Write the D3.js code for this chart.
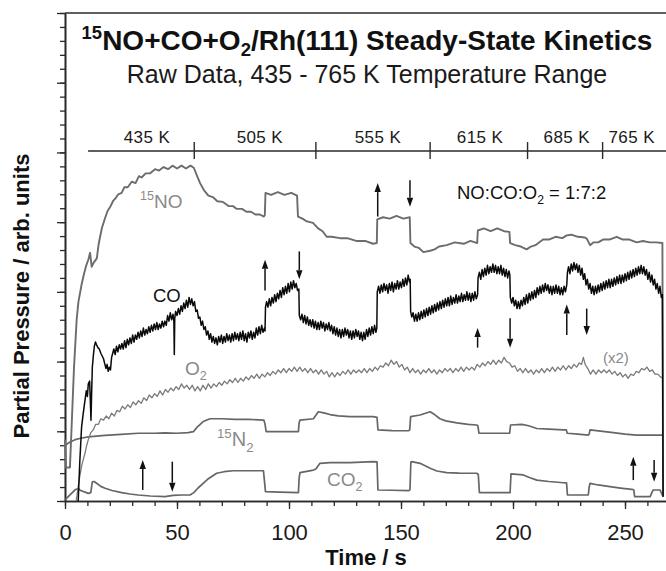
<!DOCTYPE html>
<html>
<head>
<meta charset="utf-8">
<script src="https://d3js.org/d3.v7.min.js"></script>
<style>
body { margin: 0; background: #fff; }
svg { display: block; font-family: "Liberation Sans", Arial, Helvetica, sans-serif; }
</style>
</head>
<body>
<script>
// ---- data: [time (s), partial pressure (arb.)] ----
var noData = [[0,4.4],[0.4,2.4],[2.2,2.4],[3.0,5.5],[4.0,9.5],[5.2,13.0],[6.0,14.3],[7.5,15.6],[8.5,16.3],[9.5,16.9],[10.4,17.3],[11.2,17.8],[11.9,16.8],[12.8,17.1],[14.2,17.4],[15.0,18.4],[15.6,18.9],[16.5,19.6],[17.9,20.3],[19.0,20.8],[20.2,21.1],[21.4,21.5],[22.5,21.7],[23.8,22.0],[25.3,22.1],[26.5,22.5],[28.0,22.5],[29.8,22.9],[31.5,22.8],[33.0,23.3],[34.2,23.2],[36.0,23.5],[38.0,23.5],[40.2,23.8],[42.0,23.7],[44.0,23.95],[46.0,23.8],[48.0,24.05],[50.0,23.85],[52.0,24.05],[54.0,23.85],[56.0,24.05],[57.5,23.9],[59.0,23.3],[60.3,22.8],[62.0,22.3],[64.0,21.9],[66.0,21.8],[68.0,21.5],[70.5,21.45],[73.0,21.15],[75.0,21.15],[76.7,20.95],[79.0,20.95],[81.0,20.75],[83.0,20.75],[85.0,20.55],[87.0,20.55],[88.8,20.4],[89.2,20.5],[89.5,22.1],[92.0,21.95],[95.0,22.15],[98.0,21.95],[101.0,22.1],[103.6,21.9],[104.0,20.4],[106.0,20.25],[108.0,20.05],[110.7,19.95],[113.0,19.55],[115.0,19.35],[116.8,18.95],[119.0,18.95],[122.8,18.85],[126.0,18.85],[130.0,18.65],[134.0,18.65],[137.5,18.45],[139.2,18.5],[139.4,20.2],[142.0,20.35],[145.0,20.25],[148.0,20.45],[151.0,20.25],[153.9,20.35],[154.2,18.5],[156.0,18.25],[158.0,18.15],[160.0,17.85],[163.0,17.95],[165.0,18.05],[167.0,18.25],[170.4,18.35],[174.0,18.55],[178.0,18.45],[181.0,18.65],[184.0,18.5],[184.3,19.4],[187.0,19.55],[190.0,19.35],[193.0,19.55],[196.0,19.35],[198.4,19.3],[198.7,18.5],[201.0,18.35],[203.5,18.25],[206.1,18.05],[208.0,18.25],[210.0,18.35],[213.4,18.75],[216.0,18.75],[219.0,18.95],[222.0,18.85],[224.0,19.05],[226.0,19.1],[229.0,18.95],[232.1,18.9],[233.0,18.8],[234.4,18.35],[236.0,18.55],[238.0,18.55],[240.2,18.75],[243.0,18.75],[246.3,18.95],[249.0,18.75],[252.0,18.75],[255.2,18.55],[258.0,18.65],[261.0,18.55],[264.0,18.55],[266.7,18.5],[267.0,0.3]];

var coData = [[5.9,0],[6.6,2.8],[7.4,5.3],[8.0,6.1],[8.9,7.2],[9.5,7.9],[10.0,7.5],[10.4,8.4],[11.0,8.6],[11.3,7.2],[11.6,5.8],[11.9,7.8],[12.2,9.6],[12.7,10.5],[13.1,11.1],[13.6,11.4],[14.1,11.2],[14.7,11.0],[15.3,10.9],[16.0,10.6],[16.6,10.4],[17.2,10.2],[17.8,9.8],[18.3,9.5],[18.8,9.8],[19.3,9.3],[19.8,9.6],[20.3,9.4],[20.8,10.3],[21.3,10.6],[21.8,10.9],[22.4,10.5],[23.0,11.1],[23.6,10.7],[24.2,11.2],[24.8,10.9],[25.4,11.3],[26.0,10.9],[26.6,11.5],[27.2,11.0],[27.8,11.6],[28.4,11.2],[29.0,11.7],[29.6,11.3],[30.2,11.9],[30.8,11.4],[31.4,11.9],[32.0,11.6],[32.6,12.1],[33.2,11.7],[33.8,12.2],[34.4,11.8],[35.0,12.4],[35.6,11.9],[36.2,12.3],[36.8,12.0],[37.4,12.5],[38.0,12.1],[38.6,12.6],[39.2,12.2],[39.8,12.7],[40.4,12.3],[41.0,12.8],[41.6,12.3],[42.2,12.7],[42.8,12.4],[43.4,12.9],[44.0,12.5],[44.6,12.9],[45.2,12.6],[45.8,13.3],[46.4,12.9],[47.0,13.5],[47.6,13.0],[48.2,13.4],[48.6,12.9],[48.8,10.5],[49.0,13.1],[49.4,13.6],[50.0,13.3],[50.6,13.8],[51.2,13.4],[51.8,14.0],[52.4,13.6],[53.0,14.2],[53.6,13.8],[54.2,14.4],[54.8,13.9],[55.4,14.6],[56.0,14.1],[56.6,14.5],[57.2,14.0],[57.8,14.3],[58.4,13.6],[59.0,13.7],[59.6,13.1],[60.2,13.2],[60.8,12.6],[61.4,12.9],[62.0,12.3],[62.6,12.5],[63.2,11.9],[63.8,12.2],[64.4,11.6],[65.0,12.0],[65.6,11.4],[66.2,11.8],[66.8,11.3],[67.4,11.7],[68.0,11.2],[68.6,11.8],[69.2,11.4],[69.8,11.9],[70.4,11.3],[71.0,11.8],[71.6,11.4],[72.2,12.0],[72.8,11.5],[73.4,11.9],[74.0,11.4],[74.6,12.0],[75.2,11.5],[75.8,12.1],[76.4,11.6],[77.0,12.0],[77.6,11.5],[78.2,12.1],[78.8,11.6],[79.4,12.2],[80.0,11.5],[80.6,12.0],[81.2,11.4],[81.8,12.1],[82.4,11.7],[83.0,12.2],[83.6,11.6],[84.2,12.1],[84.8,11.7],[85.4,12.4],[86.0,11.9],[86.6,12.5],[87.2,12.0],[87.8,12.6],[88.4,12.1],[89.0,12.4],[89.3,12.2],[89.5,13.9],[90.0,14.3],[90.6,13.9],[91.2,14.5],[91.8,14.0],[92.4,14.6],[93.0,14.2],[93.6,14.8],[94.2,14.3],[94.8,14.9],[95.4,14.5],[96.0,15.1],[96.6,14.6],[97.2,15.3],[97.8,14.8],[98.4,15.4],[99.0,14.9],[99.6,15.6],[100.2,15.0],[100.8,15.7],[101.4,15.2],[102.0,15.8],[102.6,15.3],[103.2,15.6],[103.8,15.1],[104.4,15.2],[104.6,13.3],[105.2,13.0],[105.8,13.4],[106.4,12.8],[107.0,13.3],[107.6,12.7],[108.2,13.2],[108.8,12.6],[109.4,13.0],[110.0,12.5],[110.6,13.0],[111.2,12.4],[111.8,12.9],[112.4,12.3],[113.0,12.8],[113.6,12.3],[114.2,12.9],[114.8,12.4],[115.4,12.8],[116.0,12.2],[116.6,12.7],[117.2,12.3],[117.8,12.8],[118.4,12.2],[119.0,12.6],[119.6,12.0],[120.2,12.5],[120.8,11.9],[121.4,12.4],[122.0,11.8],[122.6,12.3],[123.2,11.7],[123.8,12.3],[124.4,11.8],[125.0,12.4],[125.6,11.9],[126.2,12.3],[126.8,11.7],[127.4,12.2],[128.0,11.6],[128.6,12.2],[129.2,11.7],[129.8,12.3],[130.4,11.8],[131.0,12.2],[131.6,11.6],[132.2,12.1],[132.8,11.5],[133.4,12.1],[134.0,11.6],[134.6,12.3],[135.2,11.8],[135.8,12.4],[136.4,11.9],[137.0,12.5],[137.6,12.0],[138.2,12.6],[138.8,12.1],[139.2,12.4],[139.4,15.0],[140.0,15.4],[140.6,14.9],[141.2,15.5],[141.8,15.0],[142.4,15.6],[143.0,15.1],[143.6,15.5],[144.2,14.9],[144.8,15.6],[145.4,15.1],[146.0,15.7],[146.6,15.0],[147.2,15.6],[147.8,15.2],[148.4,15.8],[149.0,15.2],[149.6,15.7],[150.2,15.3],[150.8,15.9],[151.4,15.4],[152.0,16.0],[152.6,15.5],[153.2,16.2],[153.8,15.7],[154.1,15.9],[154.3,13.6],[154.8,13.2],[155.4,13.5],[156.0,12.9],[156.6,13.4],[157.2,12.9],[157.8,13.5],[158.4,13.0],[159.0,13.6],[159.6,13.1],[160.2,13.7],[160.8,13.2],[161.4,13.8],[162.0,13.3],[162.6,13.9],[163.2,13.4],[163.8,14.0],[164.4,13.5],[165.0,14.1],[165.6,13.6],[166.2,14.2],[166.8,13.7],[167.4,14.3],[168.0,13.8],[168.6,14.4],[169.2,13.9],[169.8,14.5],[170.4,14.0],[171.0,14.6],[171.6,14.0],[172.2,14.7],[172.8,14.1],[173.4,14.6],[174.0,14.2],[174.6,14.8],[175.2,14.2],[175.8,14.7],[176.4,14.3],[177.0,14.9],[177.6,14.3],[178.2,14.8],[178.8,14.4],[179.4,15.0],[180.0,14.4],[180.6,14.9],[181.2,14.3],[181.8,14.9],[182.4,14.4],[183.0,15.0],[183.6,14.5],[184.2,14.8],[184.4,16.0],[185.0,16.4],[185.6,15.9],[186.2,16.6],[186.8,16.1],[187.4,16.7],[188.0,16.2],[188.6,16.9],[189.2,16.3],[189.8,16.8],[190.4,16.4],[191.0,17.0],[191.6,16.4],[192.2,16.9],[192.8,16.3],[193.4,16.8],[194.0,16.3],[194.6,16.9],[195.2,16.2],[195.8,16.7],[196.4,16.1],[197.0,16.6],[197.6,16.0],[198.2,16.5],[198.6,16.2],[198.8,14.6],[199.4,14.2],[200.0,14.6],[200.6,14.0],[201.2,14.4],[201.8,13.8],[202.4,14.3],[203.0,13.8],[203.6,14.4],[204.2,14.0],[204.8,14.6],[205.4,14.1],[206.0,14.8],[206.6,14.2],[207.2,14.9],[207.8,14.4],[208.4,15.0],[209.0,14.5],[209.6,15.1],[210.2,14.6],[210.8,15.3],[211.4,14.8],[212.0,15.4],[212.6,14.9],[213.2,15.5],[213.8,15.0],[214.4,15.6],[215.0,15.1],[215.6,15.5],[216.2,14.9],[216.8,15.4],[217.4,14.8],[218.0,15.4],[218.6,14.9],[219.2,15.5],[219.8,14.9],[220.4,15.4],[221.0,14.8],[221.6,15.3],[222.2,14.8],[222.8,15.4],[223.4,15.0],[224.0,15.5],[224.3,16.4],[224.8,16.8],[225.4,16.3],[226.0,17.0],[226.6,16.5],[227.2,17.1],[227.8,16.6],[228.4,17.0],[229.0,16.4],[229.6,16.9],[230.2,16.2],[230.8,16.7],[231.4,15.9],[232.0,16.3],[232.6,15.5],[233.2,15.9],[233.8,15.2],[234.4,15.6],[235.0,14.9],[235.6,15.4],[236.2,14.8],[236.8,15.4],[237.4,14.9],[238.0,15.5],[238.6,15.0],[239.2,15.6],[239.8,15.1],[240.4,15.7],[241.0,15.2],[241.6,15.8],[242.2,15.3],[242.8,15.9],[243.4,15.3],[244.0,15.9],[244.6,15.4],[245.2,16.0],[245.8,15.5],[246.4,16.1],[247.0,15.6],[247.6,16.2],[248.2,15.6],[248.8,16.2],[249.4,15.7],[250.0,16.3],[250.6,15.8],[251.2,16.4],[251.8,15.9],[252.4,16.5],[253.0,16.0],[253.6,16.6],[254.2,16.1],[254.8,16.7],[255.4,16.2],[256.0,16.8],[256.6,16.3],[257.2,16.9],[257.8,16.3],[258.4,16.8],[259.0,16.2],[259.6,16.6],[260.2,15.9],[260.8,16.4],[261.4,15.7],[262.0,16.2],[262.6,15.5],[263.2,15.9],[263.8,15.2],[264.4,15.6],[265.0,14.9],[265.6,15.4],[266.2,14.6],[266.7,14.8],[267.0,0.3]];

var o2Data = [[5.0,0.0],[6.2,1.4],[7.4,2.5],[8.2,3.0],[8.9,3.4],[9.7,4.0],[10.4,4.4],[11.5,4.9],[12.6,5.1],[13.7,5.5],[14.9,5.5],[16.0,5.9],[17.2,5.8],[18.4,6.1],[19.6,5.9],[20.8,6.3],[22.0,6.1],[23.2,6.5],[24.4,6.4],[25.6,6.8],[26.8,6.6],[28.0,6.9],[29.2,6.7],[30.4,7.1],[31.6,6.9],[32.8,7.2],[34.0,7.0],[35.2,7.4],[36.4,7.2],[37.6,7.6],[38.8,7.4],[40.0,7.7],[41.2,7.5],[42.4,7.9],[43.6,7.6],[44.8,8.0],[46.0,7.8],[47.2,8.1],[48.4,7.9],[49.6,8.2],[50.8,8.0],[52.0,8.4],[53.2,8.1],[54.4,8.3],[55.6,8.0],[56.8,8.3],[58.0,7.9],[59.2,8.2],[60.4,7.9],[61.6,8.3],[62.8,8.0],[64.0,8.4],[65.2,8.1],[66.4,8.4],[67.6,8.2],[68.8,8.5],[70.0,8.3],[71.2,8.6],[72.4,8.4],[73.6,8.7],[74.8,8.5],[76.0,8.8],[77.2,8.5],[78.4,8.8],[79.6,8.6],[80.8,8.9],[82.0,8.7],[83.2,9.0],[84.4,8.8],[85.6,9.1],[86.8,8.8],[88.0,9.1],[89.2,8.9],[90.4,9.2],[91.6,9.0],[92.8,9.3],[94.0,9.1],[95.2,9.4],[96.4,9.2],[97.6,9.5],[98.8,9.2],[100.0,9.5],[101.2,9.3],[102.4,9.6],[103.6,9.3],[104.8,9.6],[106.0,9.3],[107.2,9.5],[108.4,9.2],[109.6,9.5],[110.8,9.2],[112.0,9.4],[113.2,9.1],[114.4,9.4],[115.6,9.1],[116.8,9.3],[118.0,8.9],[119.2,9.2],[120.4,8.9],[121.6,9.2],[122.8,9.0],[124.0,9.3],[125.2,9.1],[126.4,9.4],[127.6,9.1],[128.8,9.4],[130.0,9.2],[131.2,9.4],[132.4,9.2],[133.6,9.5],[134.8,9.2],[136.0,9.5],[137.2,9.3],[138.4,9.6],[139.6,9.4],[140.8,9.7],[142.0,9.6],[143.2,9.9],[144.4,9.7],[145.6,10.1],[146.8,9.8],[148.0,10.0],[149.2,9.6],[150.4,9.8],[151.6,9.4],[152.8,9.6],[154.0,9.2],[155.2,9.5],[156.4,9.2],[157.6,9.4],[158.8,9.1],[160.0,9.4],[161.2,9.2],[162.4,9.5],[163.6,9.2],[164.8,9.4],[166.0,9.1],[167.2,9.4],[168.4,9.2],[169.6,9.5],[170.8,9.3],[172.0,9.5],[173.2,9.2],[174.4,9.5],[175.6,9.3],[176.8,9.6],[178.0,9.3],[179.2,9.6],[180.4,9.4],[181.6,9.6],[182.8,9.4],[184.0,9.8],[185.2,9.6],[186.4,9.9],[187.6,9.7],[188.8,10.0],[190.0,9.8],[191.2,10.1],[192.4,9.8],[193.6,10.1],[194.8,9.9],[196.0,10.3],[197.2,10.0],[198.4,9.9],[199.6,9.6],[200.8,9.7],[202.0,9.3],[203.2,9.5],[204.4,9.2],[205.6,9.5],[206.8,9.2],[208.0,9.4],[209.2,9.1],[210.4,9.4],[211.6,9.2],[212.8,9.5],[214.0,9.2],[215.2,9.5],[216.4,9.3],[217.6,9.6],[218.8,9.3],[220.0,9.6],[221.2,9.4],[222.4,9.7],[223.6,9.4],[224.8,9.7],[226.0,9.5],[227.2,9.8],[228.4,9.6],[229.6,9.9],[230.6,9.8],[231.4,10.3],[232.2,9.8],[233.4,9.5],[234.6,9.1],[235.8,9.4],[237.0,9.1],[238.2,9.4],[239.4,9.2],[240.6,9.4],[241.8,9.2],[243.0,9.4],[244.2,9.1],[245.4,9.3],[246.6,9.0],[247.8,9.2],[249.0,8.9],[250.2,9.1],[251.4,8.8],[252.6,9.1],[253.8,9.0],[255.0,9.3],[256.2,9.2],[257.4,9.5],[258.6,9.4],[259.8,9.6],[261.0,9.3],[262.2,9.4],[263.4,9.1],[264.6,9.1],[265.8,8.9],[267.0,8.8]];

var n2Data = [[0,3.97],[1,4.1],[2.5,4.25],[4.5,4.4],[7,4.5],[10.4,4.6],[14,4.65],[17.9,4.7],[25,4.78],[32.7,4.86],[40,4.86],[44.6,4.88],[49.9,4.86],[55,4.9],[57.3,4.97],[59,5.3],[61.7,5.7],[64.7,5.9],[70,5.9],[76,5.85],[82,5.85],[88.8,5.8],[89.3,5.5],[89.8,4.97],[96,4.97],[104.2,4.97],[104.5,5.6],[104.9,5.8],[110.9,5.9],[113.1,6.4],[116,6.3],[118.3,6.2],[122,6.1],[127.2,6.05],[132,6.05],[137.6,6.05],[139.3,6.0],[139.7,5.1],[146,5.05],[153.3,5.04],[153.9,5.1],[154.3,6.05],[158.5,6.17],[163,6.4],[165,6.2],[167.4,5.9],[170,5.75],[174.9,5.6],[180,5.5],[183.8,5.45],[184.3,5.4],[184.8,4.86],[192,4.86],[198.5,4.86],[198.9,5.45],[203.9,5.5],[207,5.4],[210.6,5.2],[216,5.15],[222.5,5.1],[223.8,5.1],[224.2,4.86],[229,4.8],[233.6,4.73],[234.0,4.8],[234.4,5.1],[240,5.0],[244.8,4.9],[250,4.8],[255.2,4.73],[261,4.73],[267,4.73]];

var co2Data = [[0,0.07],[2,0.4],[4.5,0.8],[5.9,0.9],[7,0.75],[10.4,0.55],[11.5,0.6],[12.2,1.38],[13,1.4],[14.1,1.27],[16,1.05],[17.9,0.91],[21,0.75],[25.3,0.6],[29,0.5],[32.7,0.43],[38,0.36],[44.6,0.31],[48.3,0.4],[52,0.43],[55.8,0.43],[57.5,0.6],[59.5,0.95],[61.7,1.27],[64,1.6],[67.7,1.99],[71,2.1],[75.1,2.17],[82,2.17],[88.6,2.17],[89.0,1.5],[89.5,0.67],[96,0.64],[104.2,0.6],[104.5,1.6],[104.9,2.03],[110.9,2.22],[112,2.3],[113.8,2.7],[118.3,2.75],[127.2,2.75],[137.6,2.82],[139.3,2.8],[139.7,0.79],[146,0.77],[153.3,0.74],[154.0,0.8],[154.4,2.8],[154.8,2.82],[158.5,2.7],[163,2.35],[166,2.15],[170.4,2.03],[176,2.0],[183.8,1.99],[184.5,1.9],[185,0.6],[192,0.6],[198.7,0.6],[199.1,1.94],[204.6,1.87],[207,1.7],[210.6,1.5],[216,1.4],[222.5,1.31],[223.9,1.3],[224.3,0.43],[229,0.43],[233.6,0.43],[234.0,1.0],[234.4,1.27],[238,1.15],[243.3,1.03],[248,0.93],[253,0.84],[253.9,0.8],[254.3,0.31],[258,0.31],[261.2,0.31],[262,0.6],[262.6,0.79],[265.6,0.79],[267,0.31]];

// temperature steps along the top bar
var tempStart = 10.3;
var tempBounds = [57.7, 112, 163, 206.5, 240];
var tempLabels = ["435 K", "505 K", "555 K", "615 K", "685 K", "765 K"];
var tempLabelAt = [36.6, 87, 139.7, 185.3, 224, 253];
var tempLevel = 25.1;

// gas-switch arrows: time, start value, tip value
var arrowTimes = [89.3, 104.6, 139.6, 154, 184.2, 198.7, 224, 232.9, 34.7, 47.9, 253.7, 263];
var arrowFrom  = [15.1, 17.9, 20.4, 23.0, 11.0, 13.1, 11.9, 13.8, 0.79, 2.82, 1.5, 2.94];
var arrowTo    = [17.3, 15.9, 22.8, 21.1, 12.4, 11.0, 14.1, 11.9, 2.94, 0.67, 3.18, 1.38];

var xMajor = [0, 50, 100, 150, 200, 250];

var W = 666, H = 571;
var x = d3.scaleLinear().domain([0, 268.3]).range([65, 666]);
var y = d3.scaleLinear().domain([0, 35]).range([501, 13]);

var svg = d3.select("body").append("svg").attr("width", W).attr("height", H);
svg.append("rect").attr("width", W).attr("height", H).attr("fill", "#fff");

var axisColor = "#2a2a2a";

// top frame line
svg.append("line")
    .attr("x1", x(0)).attr("x2", W)
    .attr("y1", y(35)).attr("y2", y(35))
    .attr("stroke", axisColor).attr("stroke-width", 1.6);

// left axis: minor + major ticks, no labels
svg.append("g").attr("transform", "translate(" + x(0) + ",0)")
    .call(d3.axisLeft(y).tickValues(d3.range(0, 36, 1)).tickFormat("").tickSize(5).tickSizeOuter(0));
svg.append("g").attr("transform", "translate(" + x(0) + ",0)")
    .call(d3.axisLeft(y).tickValues(d3.range(0, 36, 5)).tickFormat("").tickSize(8).tickSizeOuter(0));

// bottom axis
svg.append("g").attr("transform", "translate(0," + y(0) + ")")
    .call(d3.axisBottom(x).tickValues(d3.range(0, 268, 10)).tickFormat("").tickSize(5).tickSizeOuter(0));
var xg = svg.append("g").attr("transform", "translate(0," + y(0) + ")")
    .call(d3.axisBottom(x).tickValues(xMajor).tickSize(8).tickSizeOuter(0).tickPadding(15));
xg.selectAll("text").attr("font-size", 22).attr("fill", "#1a1a1a")
    .attr("font-family", "'Liberation Sans', Arial, sans-serif");

svg.selectAll(".domain").attr("stroke", axisColor).attr("stroke-width", 1.6);
svg.selectAll(".tick line").attr("stroke", axisColor).attr("stroke-width", 1.3);

// traces
var line = d3.line().x(function(d) { return x(d[0]); }).y(function(d) { return y(d[1]); });
var traces = [
    {data: co2Data, color: "#666", width: 1.7},
    {data: n2Data, color: "#666", width: 1.7},
    {data: o2Data, color: "#7a7a7a", width: 1.3},
    {data: noData, color: "#6c6c6c", width: 1.9},
    {data: coData, color: "#0a0a0a", width: 1.5}
];
traces.forEach(function(tr) {
    svg.append("path").datum(tr.data)
        .attr("d", line)
        .attr("fill", "none")
        .attr("stroke", tr.color)
        .attr("stroke-width", tr.width)
        .attr("stroke-linejoin", "round");
});

// temperature bar
svg.append("line")
    .attr("x1", x(tempStart)).attr("x2", W)
    .attr("y1", y(tempLevel)).attr("y2", y(tempLevel))
    .attr("stroke", axisColor).attr("stroke-width", 1.4);
svg.selectAll(".tbound").data(tempBounds).enter().append("line")
    .attr("x1", function(d) { return x(d); }).attr("x2", function(d) { return x(d); })
    .attr("y1", y(tempLevel) - 9).attr("y2", y(tempLevel) + 8)
    .attr("stroke", axisColor).attr("stroke-width", 1.4);
svg.selectAll(".tlab").data(tempLabels).enter().append("text")
    .attr("x", function(d, i) { return x(tempLabelAt[i]); })
    .attr("y", y(tempLevel) - 8)
    .attr("text-anchor", "middle")
    .attr("font-size", 17).attr("letter-spacing", 0.4)
    .attr("fill", "#1a1a1a")
    .text(function(d) { return d; });

// arrows
arrowTimes.forEach(function(t, i) {
    var x0 = x(t), y0 = y(arrowFrom[i]), y1 = y(arrowTo[i]);
    var dir = y1 < y0 ? -1 : 1;
    var head = 9;
    svg.append("line")
        .attr("x1", x0).attr("x2", x0)
        .attr("y1", y0).attr("y2", y1 - dir * head)
        .attr("stroke", "#111").attr("stroke-width", 1.5);
    svg.append("path")
        .attr("d", "M" + x0 + "," + y1 + "L" + (x0 - 3.2) + "," + (y1 - dir * head) +
             "L" + (x0 + 3.2) + "," + (y1 - dir * head) + "Z")
        .attr("fill", "#111");
});

// text with super/subscripts
function rich(xp, yp, parts, size, opts) {
    opts = opts || {};
    var t = svg.append("text").attr("x", xp).attr("y", yp)
        .attr("font-size", size)
        .attr("fill", opts.fill || "#111")
        .attr("font-weight", opts.weight || "normal")
        .attr("text-anchor", opts.anchor || "start");
    var shift = 0;
    var subShift = opts.sub || 0.28;
    parts.forEach(function(p) {
        var target = p[1] == "sup" ? -0.4 * size : p[1] == "sub" ? subShift * size : 0;
        t.append("tspan")
            .attr("dy", target - shift)
            .attr("font-size", p[1] ? size * 0.66 : size)
            .text(p[0]);
        shift = target;
    });
    return t;
}

rich(367, 50, [["15", "sup"], ["NO+CO+O", ""], ["2", "sub"], ["/Rh(111) Steady-State Kinetics", ""]], 28,
     {weight: "bold", anchor: "middle", fill: "#111", sub: 0.2});
rich(367, 83, [["Raw Data, 435 - 765 K Temperature Range", ""]], 25, {anchor: "middle", fill: "#1a1a1a"});

var gray = "#8a8a8a";
rich(140, 208, [["15", "sup"], ["NO", ""]], 19, {fill: gray});
rich(153, 302, [["CO", ""]], 18.5, {fill: "#111"});
rich(185, 375, [["O", ""], ["2", "sub"]], 19, {fill: gray});
rich(217, 446, [["15", "sup"], ["N", ""], ["2", "sub"]], 20, {fill: gray});
rich(327, 486, [["CO", ""], ["2", "sub"]], 19, {fill: gray});
rich(603, 363, [["(x2)", ""]], 15, {fill: gray});
rich(457, 199, [["NO:CO:O", ""], ["2", "sub"], [" = 1:7:2", ""]], 18.5, {fill: "#111"});

// axis titles
svg.append("text").attr("x", 366).attr("y", 565)
    .attr("text-anchor", "middle").attr("font-size", 22).attr("font-weight", "bold")
    .attr("fill", "#111").text("Time / s");
svg.append("text").attr("transform", "translate(29,296) rotate(-90)")
    .attr("text-anchor", "middle").attr("font-size", 22).attr("font-weight", "bold")
    .attr("fill", "#111").text("Partial Pressure / arb. units");
</script>
</body>
</html>
